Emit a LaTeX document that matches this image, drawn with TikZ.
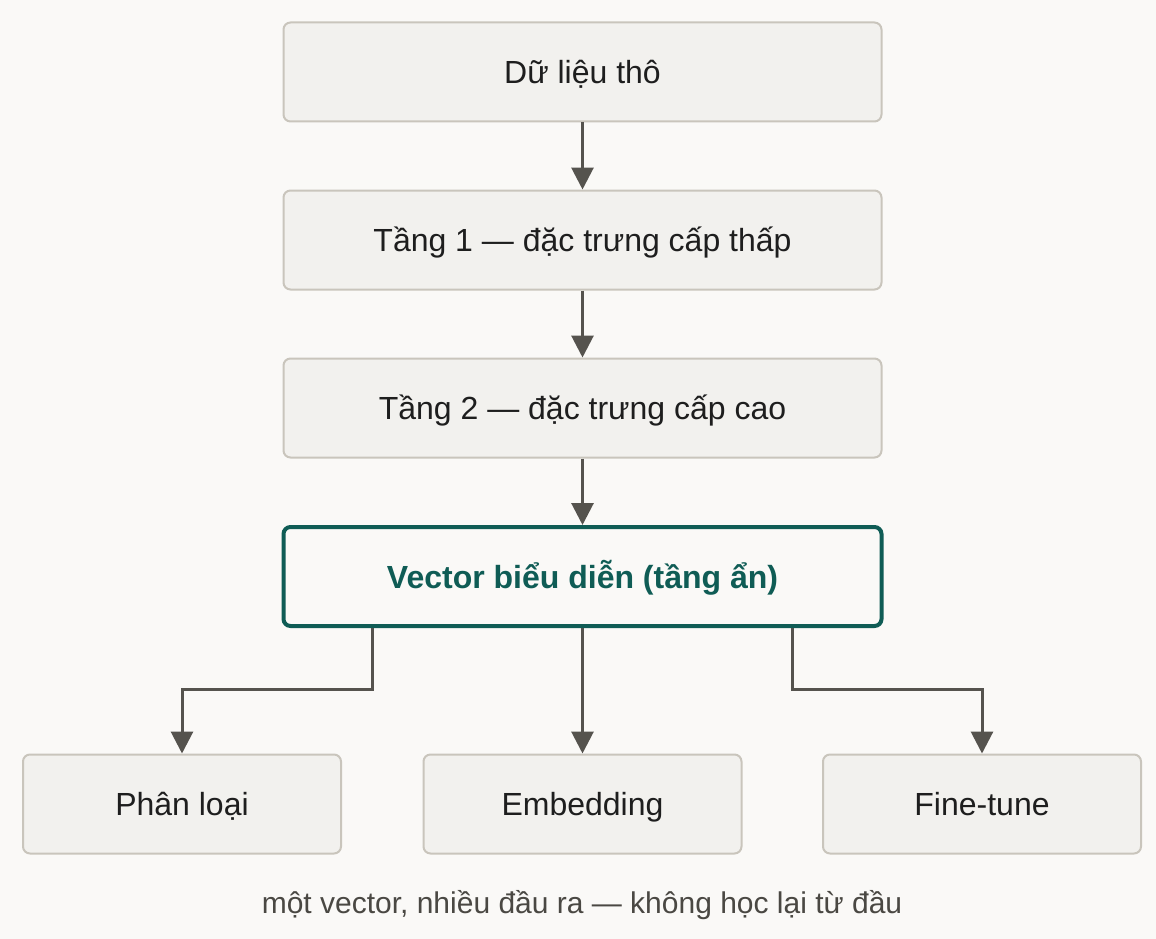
\documentclass[tikz,border=0pt]{standalone}
\usepackage{fontspec}
\setmainfont{Liberation Sans}
\usetikzlibrary{arrows.meta,positioning}
\definecolor{netPaper}{HTML}{FAF9F7}
\definecolor{netBox}{HTML}{F2F1EE}
\definecolor{netEdge}{HTML}{C9C5BC}
\definecolor{netTeal}{HTML}{0F5C55}
\definecolor{netArrow}{HTML}{55534E}
\definecolor{netInk}{HTML}{1E1E1E}
\definecolor{netNote}{HTML}{4A4843}

\begin{document}
\begin{tikzpicture}[x=1pt,y=-1pt,line join=miter]
\path[fill=netPaper] (0,0) rectangle (1156,939);
\tikzset{layer/.style={draw=netEdge,fill=netBox,line width=2pt,rounded corners=7pt,minimum width=598pt,minimum height=99pt,text=netInk,text height=23pt,text depth=0pt,font=\fontsize{32}{38}\selectfont},
  head/.style={layer,minimum width=318pt},
  hidden/.style={layer,draw=netTeal,fill=netPaper,line width=4pt,text=netTeal,font=\fontsize{32}{38}\selectfont\bfseries},
  arr/.style={draw=netArrow,line width=3pt,-{Triangle[width=22pt,length=22pt]}}}
\node[layer] (raw) at (582.5,72) {Dữ liệu thô};
\node[layer] (low) at (582.5,240) {Tầng 1 — đặc trưng cấp thấp};
\node[layer] (high) at (582.5,408) {Tầng 2 — đặc trưng cấp cao};
\node[hidden] (vec) at (582.5,576.5) {Vector biểu diễn (tầng ẩn)};
\node[head] (cls) at (182,804) {Phân loại};
\node[head] (emb) at (582.5,804) {Embedding};
\node[head] (ft) at (982,804) {Fine-tune};
\coordinate (vL) at (372,628);
\coordinate (vR) at (792,628);
\draw[arr] (raw) -- (low);
\draw[arr] (low) -- (high);
\draw[arr] (high) -- (vec);
\draw[arr] (vec) -- (emb);
\draw[arr] (vL) -- ++(0,61) -| (cls.north);
\draw[arr] (vR) -- ++(0,61) -| (ft.north);
\node[text=netNote,text height=21pt,text depth=0pt,font=\fontsize{30}{36}\selectfont] (note) at (582,903) {một vector, nhiều đầu ra — không học lại từ đầu};
\end{tikzpicture}
\end{document}
